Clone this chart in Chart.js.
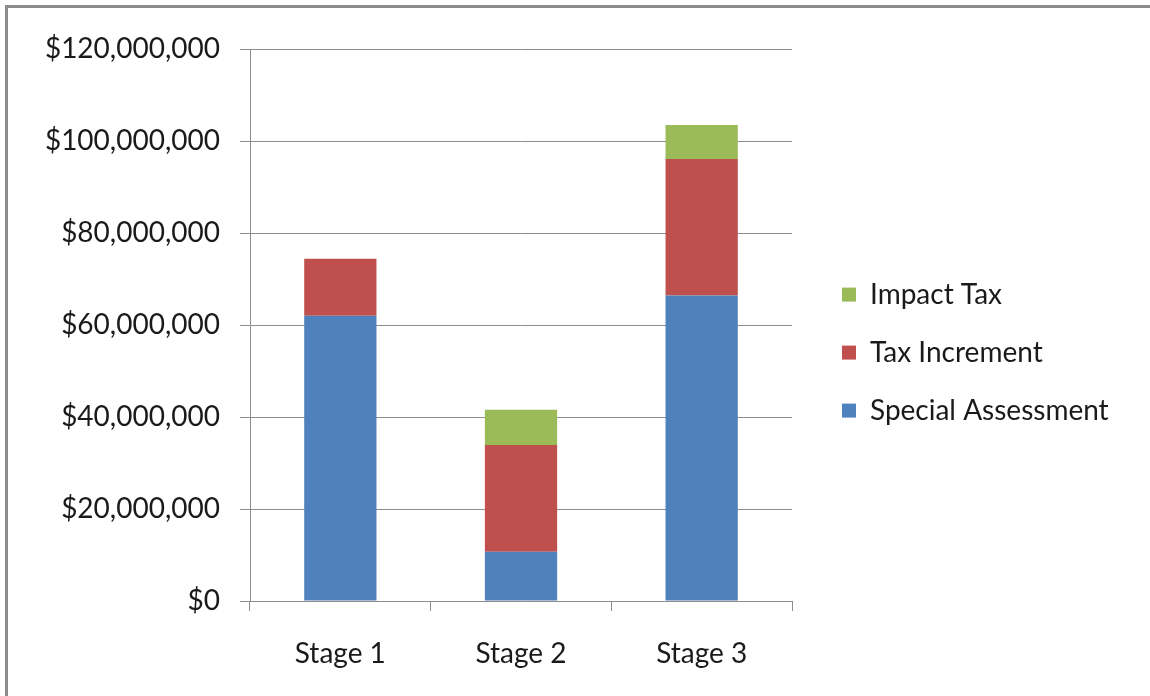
<!DOCTYPE html>
<html>
<head>
<meta charset="utf-8">
<script src="https://cdn.jsdelivr.net/npm/chart.js@4/dist/chart.umd.min.js"></script>
<style>
  body { margin: 0; background: #fff; font-family: Lato; }
  #wrap { position: absolute; left: 0; top: 0; width: 1150px; height: 696px; overflow: hidden; }
  #frame { position: absolute; left: 5px; top: 5px; right: 0; bottom: 0; border-left: 3px solid #8c8c8c; border-top: 3px solid #8c8c8c; }
</style>
</head>
<body>
<div id="wrap">
  <div id="frame"></div>
  <canvas id="myChart" width="1150" height="696"></canvas>
</div>
<script>
// chart data
const stages = ['Stage 1', 'Stage 2', 'Stage 3']
const specialAssessment = [62000000, 10700000, 66400000]
const taxIncrement = [12400000, 23200000, 29700000]
const impactTax = [0, 7700000, 7400000]
const yTicks = [0, 20000000, 40000000, 60000000, 80000000, 100000000, 120000000]

const font = "Lato"
const gridGray = '#8c8c8c'

// legend gets a fixed width, otherwise chart.js squeezes it to a third of half the canvas
const legendWidth = {
    id: 'legendWidth',
    beforeLayout(chart) {
        const lg = chart.legend
        if (lg && !lg._fixed) {
            const fit = lg.fit
            lg.fit = function () {
                fit.call(this)
                this.width = 338
            }
            lg._fixed = true
        }
    }
}

function drawChart() {
    let ctx = document.querySelector('#myChart').getContext('2d');
    let fundingChart = new Chart(ctx, {
        type: 'bar',
        data: {
            labels: stages,
            datasets: [{
                label: 'Special Assessment',
                data: specialAssessment,
                backgroundColor: '#4F81BD',
            }, {
                label: 'Tax Increment',
                data: taxIncrement,
                backgroundColor: '#C0504D',
            }, {
                label: 'Impact Tax',
                data: impactTax,
                backgroundColor: '#9BBB59',
            }]
        },
        plugins: [legendWidth],
        options: {
            responsive: false,
            animation: false,
            datasets: { bar: { categoryPercentage: 1, barPercentage: 0.4 } },
            layout: { padding: { left: 0, top: 49, right: 0, bottom: 0 } },
            plugins: {
                legend: {
                    position: 'right',
                    fullSize: false,
                    reverse: true,
                    // empty title only pushes the items down a bit
                    title: { display: true, text: '', padding: { top: 0, bottom: 0 }, font: { size: 46 } },
                    labels: {
                        boxWidth: 14,
                        boxHeight: 14,
                        padding: 30,
                        color: '#1a1a1a',
                        font: { family: font, size: 28 }
                    }
                },
                tooltip: { enabled: false }
            },
            scales: {
                x: {
                    stacked: true,
                    grid: { offset: true, drawOnChartArea: false, tickLength: 10, color: gridGray },
                    border: { color: gridGray },
                    ticks: { color: '#1a1a1a', padding: 26, font: { family: font, size: 28 } },
                    afterFit: s => { s.height = 95 }
                },
                y: {
                    stacked: true,
                    min: 0,
                    max: 120000000,
                    afterBuildTicks: s => { s.ticks = yTicks.map(v => ({ value: v })) },
                    grid: { color: gridGray, tickLength: 10 },
                    border: { color: gridGray },
                    ticks: {
                        color: '#1a1a1a',
                        padding: 20,
                        font: { family: font, size: 28 },
                        callback: v => '$' + v.toLocaleString('en-US')
                    },
                    afterFit: s => { s.width = 250 }
                },
                // empty spacer between plot and legend
                gap: {
                    position: 'right',
                    grid: { display: false },
                    border: { display: false },
                    ticks: { display: false },
                    afterFit: s => { s.width = 20 }
                }
            }
        }
    });
}

// wait for the font so the legend is measured right
document.fonts.load('28px Lato').then(drawChart, drawChart)
</script>
</body>
</html>
